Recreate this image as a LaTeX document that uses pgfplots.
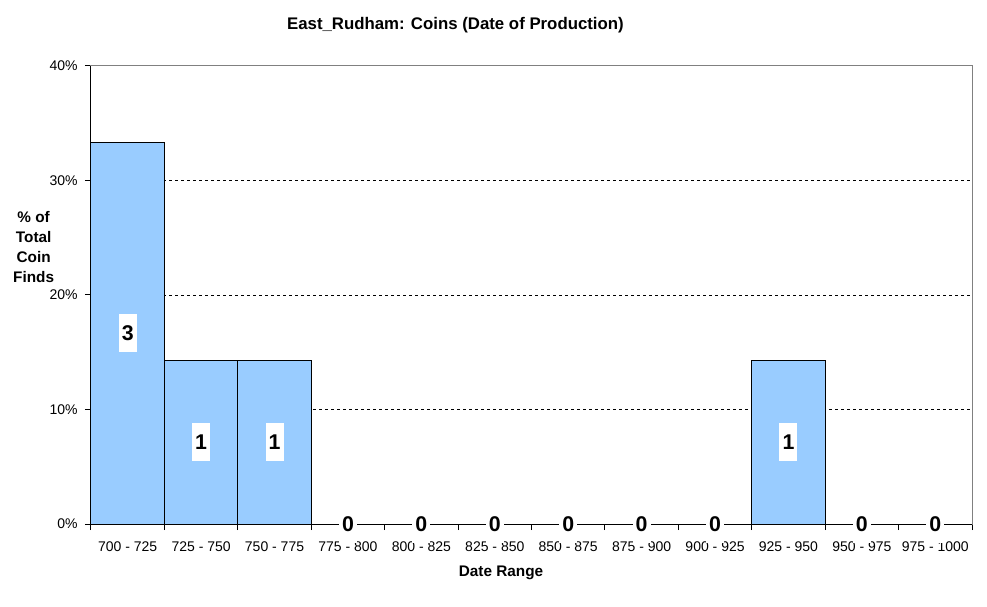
\documentclass[border=0pt]{standalone}
\usepackage{pgfplots}
\pgfplotsset{compat=1.18}
\usepackage{fontspec}
\setmainfont{Liberation Sans}
\definecolor{barblue}{HTML}{99CCFF}
\definecolor{bordergray}{HTML}{808080}
\begin{document}
\begin{tikzpicture}
\useasboundingbox (-68.25pt,-61.5pt) rectangle (672pt,393pt);
\begin{axis}[
  at={(0,0)}, anchor=south west,
  scale only axis,
  width=660.75pt, height=343.5pt,
  xmin=0, xmax=12, ymin=0, ymax=40,
  clip=false,
  axis line style={draw=bordergray, line width=0.75pt},
  tick pos=left,
  xtick={0.5,1.5,...,11.5},
  xticklabels={700 - 725,725 - 750,750 - 775,775 - 800,800 - 825,825 - 850,850 - 875,875 - 900,900 - 925,925 - 950,950 - 975,975 - 1000},
  minor xtick={0,...,12},
  major x tick style={draw=none},
  minor x tick style={black, line width=0.75pt},
  tick align=outside,
  minor tick length=4.5pt,
  major tick length=4.5pt,
  ytick={0,10,20,30,40},
  y tick style={black, line width=0.75pt},
  yticklabel={\pgfmathprintnumber{\tick}\%},
  /pgf/number format/assume math mode=true,
  tick label style={font=\fontsize{10.5}{12}\selectfont},
  xticklabel style={yshift=-5pt},
  yticklabel style={xshift=-2pt},
  extra y ticks={10,20,30},
  extra y tick labels={},
  extra y tick style={grid=major, major tick length=0pt},
  grid style={black, line width=0.6pt, dash pattern=on 2.25pt off 2.25pt},
  title={East\_Rudham: Coins (Date of Production)},
  title style={at={(axis description cs:0.4137,1)}, anchor=center, yshift=24.75pt, font=\bfseries\fontsize{12.6}{15}\selectfont},
  xlabel={Date Range},
  every axis x label/.style={at={(axis description cs:0.4654,0)}, anchor=center, yshift=-36.75pt, font=\bfseries\fontsize{11.5}{14}\selectfont},
  ylabel={\% of\\Total\\Coin\\Finds},
  every axis y label/.style={at={(axis description cs:0,0.605)}, anchor=center, xshift=-43pt, align=center, font=\bfseries\fontsize{11.5}{15}\selectfont},
]
\addplot[ybar, bar width=1, fill=barblue, draw=black, line width=0.75pt] coordinates {
  (0.5,33.3) (1.5,14.3) (2.5,14.3) (3.5,0) (4.5,0) (5.5,0) (6.5,0) (7.5,0) (8.5,0) (9.5,14.3) (10.5,0) (11.5,0)
};
\draw[black, line width=0.75pt] (rel axis cs:0,1) -- (rel axis cs:0,0) -- (rel axis cs:1,0);
\addplot[draw=none, mark=none, nodes near coords, point meta=explicit symbolic,
  nodes near coords align=center,
  every node near coord/.style={anchor=center, fill=white, inner sep=0pt, minimum width=13.5pt, minimum height=28.5pt, font=\bfseries\fontsize{16}{18}\selectfont}]
  table[meta=label] {
x y label
0.5 16.65 3
1.5 7.15 1
2.5 7.15 1
3.5 0 0
4.5 0 0
5.5 0 0
6.5 0 0
7.5 0 0
8.5 0 0
9.5 7.15 1
10.5 0 0
11.5 0 0
};
\end{axis}
\end{tikzpicture}
\end{document}
